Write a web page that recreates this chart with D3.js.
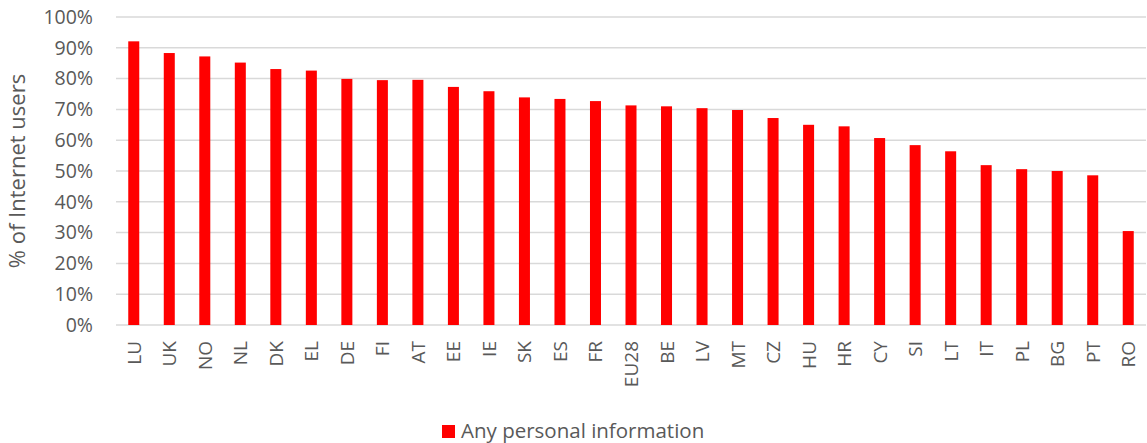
<!DOCTYPE html>
<html>
<head>
<meta charset="utf-8">
<script src="https://cdn.jsdelivr.net/npm/d3@7"></script>
<style>
  body { margin: 0; background: #fff; }
  svg text { font-family: 'Open Sans', sans-serif; fill: #595959; }
</style>
</head>
<body>
<svg></svg>
<script>
let countries = ['LU','UK','NO','NL','DK','EL','DE','FI','AT','EE','IE','SK','ES','FR','EU28','BE','LV','MT','CZ','HU','HR','CY','SI','LT','IT','PL','BG','PT','RO']
let values = [92.1,88.3,87.2,85.2,83.1,82.6,79.9,79.5,79.6,77.3,75.9,73.9,73.4,72.7,71.3,71.0,70.4,69.8,67.2,65.0,64.5,60.7,58.4,56.4,51.9,50.6,50.0,48.6,30.5]
let yTicks = [0,10,20,30,40,50,60,70,80,90,100]
let seriesName = 'Any personal information'

let width = 1147
let height = 443
let plotLeft = 116
let plotRight = 1146
let plotTop = 17
let plotBottom = 325

let svg = d3.select('svg')
    .attr('width', width)
    .attr('height', height)

let data = countries.map((c, i) => ({country: c, value: values[i]}))

let xScale = d3.scaleBand()
    .domain(countries)
    .range([plotLeft, plotRight])
    .paddingInner(0.69)
    .paddingOuter(0.345)

let yScale = d3.scaleLinear()
    .domain([0, 100])
    .range([plotBottom, plotTop])

// gridlines
svg.append('g')
   .selectAll('line')
   .data(yTicks)
   .enter()
   .append('line')
   .attr('x1', plotLeft)
   .attr('x2', plotRight)
   .attr('y1', (d) => yScale(d))
   .attr('y2', (d) => yScale(d))
   .attr('stroke', '#d9d9d9')
   .attr('stroke-width', 1.5)

// bars
svg.append('g')
   .selectAll('rect')
   .data(data)
   .enter()
   .append('rect')
   .attr('x', (d) => xScale(d.country))
   .attr('width', xScale.bandwidth())
   .attr('y', (d) => yScale(d.value))
   .attr('height', (d) => yScale(0) - yScale(d.value))
   .attr('fill', '#ff0000')

// y axis
let yAxis = d3.axisLeft(yScale)
    .tickValues(yTicks)
    .tickSize(0)
    .tickPadding(0)
    .tickFormat((d) => d + '%')

svg.append('g')
   .attr('transform', 'translate(93,0)')
   .call(yAxis)
   .call((g) => g.select('.domain').remove())
   .selectAll('text')
   .style('font-size', '19.5px')
   .attr('fill', '#595959')

// x axis
let xAxis = d3.axisBottom(xScale).tickSize(0).tickPadding(0)

svg.append('g')
   .attr('transform', 'translate(0,' + plotBottom + ')')
   .call(xAxis)
   .call((g) => g.select('.domain').remove())
   .selectAll('text')
   .style('font-size', '19px')
   .attr('fill', '#595959')
   .attr('text-anchor', 'end')
   .attr('dy', null)
   .attr('transform', 'translate(7,16) rotate(-90)')

// y label
svg.append('text')
   .text('% of Internet users')
   .attr('transform', 'translate(25,171) rotate(-90)')
   .attr('text-anchor', 'middle')
   .style('font-size', '22px')

// legend
svg.append('rect')
   .attr('x', 442)
   .attr('y', 425)
   .attr('width', 13)
   .attr('height', 13)
   .attr('fill', '#ff0000')

svg.append('text')
   .text(seriesName)
   .attr('x', 461)
   .attr('y', 438)
   .style('font-size', '20.5px')
</script>
</body>
</html>
